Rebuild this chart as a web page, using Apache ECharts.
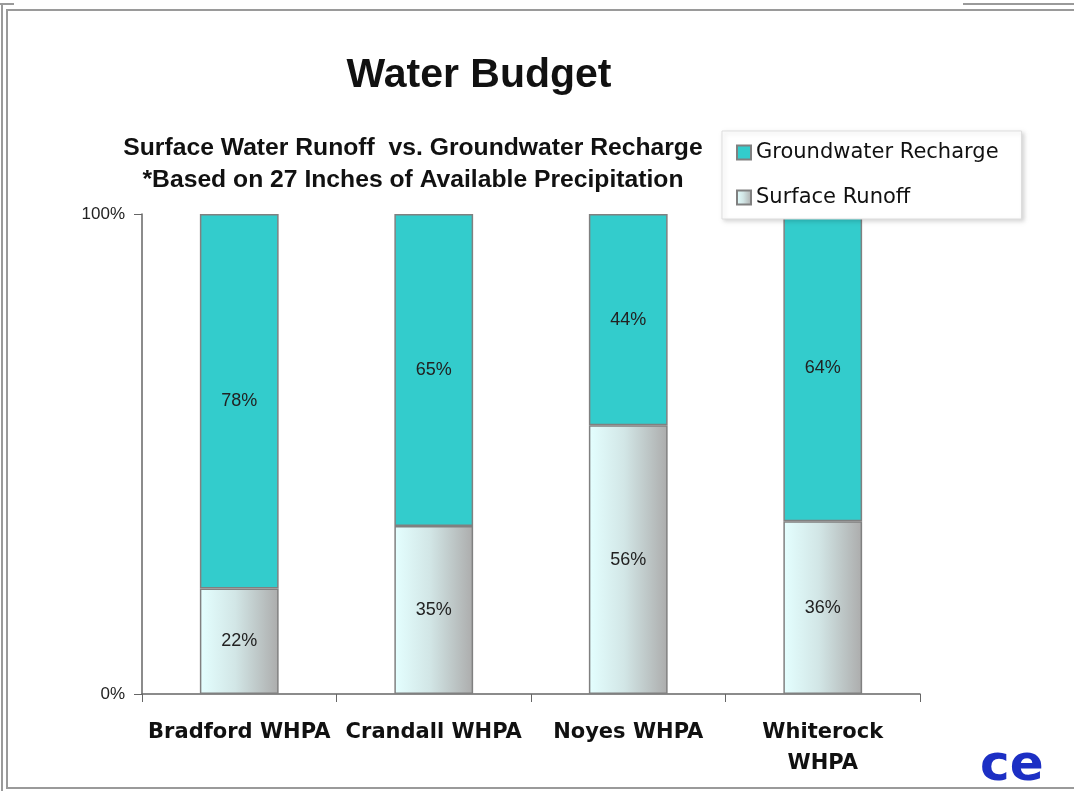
<!DOCTYPE html>
<html>
<head>
<meta charset="utf-8">
<title>Water Budget</title>
<script src="https://cdn.jsdelivr.net/npm/echarts@6/dist/echarts.min.js"></script>
<style>
  html, body { margin: 0; padding: 0; background: #fff; }
  #chart { width: 1074px; height: 791px; }
</style>
</head>
<body>
<div id="chart"></div>
<script>
// data
var categories = ['Bradford WHPA', 'Crandall WHPA', 'Noyes WHPA', 'Whiterock\nWHPA'];
var surfaceRunoff = [22, 35, 56, 36];
var groundwaterRecharge = [78, 65, 44, 64];
var yTicks = ['0%', '100%'];

var font = '"Liberation Sans", Arial, sans-serif';
var wideFont = '"DejaVu Sans", Verdana, sans-serif';

var chart = echarts.init(document.getElementById('chart'));

var runoffFill = new echarts.graphic.LinearGradient(0, 0, 1, 0, [
  { offset: 0, color: '#e4ffff' },
  { offset: 0.45, color: '#d2e6e6' },
  { offset: 1, color: '#acacac' }
]);

var option = {
  backgroundColor: '#fff',
  animation: false,
  title: [
    {
      text: 'Water Budget',
      left: 474, top: 50, textAlign: 'center',
      textStyle: { fontFamily: font, fontSize: 41, fontWeight: 'bold', color: '#111' }
    },
    {
      text: 'Surface Water Runoff  vs. Groundwater Recharge\n*Based on 27 Inches of Available Precipitation',
      left: 408, top: 127, textAlign: 'center',
      textStyle: { fontFamily: font, fontSize: 24.7, fontWeight: 'bold', color: '#111', lineHeight: 32 }
    }
  ],
  legend: {
    orient: 'vertical',
    left: 722, top: 131,
    data: ['Groundwater Recharge', 'Surface Runoff'],
    icon: 'rect',
    itemWidth: 14, itemHeight: 14,
    itemGap: 24,
    padding: [11, 23, 11, 14],
    backgroundColor: '#fff',
    borderColor: '#ddd', borderWidth: 1,
    shadowColor: 'rgba(0,0,0,0.15)', shadowBlur: 4, shadowOffsetX: 2, shadowOffsetY: 2,
    textStyle: { fontFamily: wideFont, fontSize: 21, color: '#111' }
  },
  grid: { left: 142, right: 154, top: 214, bottom: 97 },
  xAxis: {
    type: 'category',
    data: categories,
    axisLine: { lineStyle: { color: '#666', width: 1.5 } },
    axisTick: { show: true, length: 8, lineStyle: { color: '#666' } },
    axisLabel: {
      interval: 0,
      hideOverlap: false,
      margin: 23,
      fontFamily: wideFont, fontSize: 21, fontWeight: 'bold', color: '#111', lineHeight: 31
    }
  },
  yAxis: {
    type: 'value',
    min: 0, max: 100, interval: 100,
    axisLine: { show: true, lineStyle: { color: '#666', width: 1.5 } },
    axisTick: { show: true, inside: false, length: 8, lineStyle: { color: '#666' } },
    splitLine: { show: false },
    axisLabel: {
      margin: 17,
      fontFamily: font, fontSize: 17, color: '#222',
      formatter: function (v) { return yTicks[v === 0 ? 0 : 1]; }
    }
  },
  series: [
    {
      name: 'Surface Runoff',
      type: 'bar',
      stack: 'total',
      data: surfaceRunoff,
      barWidth: '40.5%',
      itemStyle: { color: runoffFill, borderColor: '#808080', borderWidth: 1.5 },
      label: {
        show: true, position: 'inside',
        formatter: '{c}%',
        fontFamily: font, fontSize: 18, color: '#222'
      }
    },
    {
      name: 'Groundwater Recharge',
      type: 'bar',
      stack: 'total',
      data: groundwaterRecharge,
      barWidth: '40.5%',
      itemStyle: { color: '#33cccc', borderColor: '#808080', borderWidth: 1.5 },
      label: {
        show: true, position: 'inside',
        formatter: '{c}%',
        fontFamily: font, fontSize: 18, color: '#222'
      }
    }
  ],
  graphic: [
    // page frame
    { type: 'rect', silent: true, shape: { x: 7, y: 10, width: 1080, height: 778 },
      style: { fill: 'none', stroke: '#9a9a9a', lineWidth: 2 } },
    { type: 'line', silent: true, shape: { x1: 2, y1: 4, x2: 2, y2: 791 },
      style: { stroke: '#9a9a9a', lineWidth: 2 } },
    { type: 'line', silent: true, shape: { x1: 0, y1: 4, x2: 14, y2: 4 },
      style: { stroke: '#9a9a9a', lineWidth: 2 } },
    { type: 'line', silent: true, shape: { x1: 963, y1: 4, x2: 1074, y2: 4 },
      style: { stroke: '#9a9a9a', lineWidth: 2 } },
    // logo
    { type: 'text', silent: true, left: 980, top: 742,
      style: { text: 'ce', fill: '#1c2fc4', font: 'bold 50px ' + wideFont } }
  ]
};

chart.setOption(option);
</script>
</body>
</html>
